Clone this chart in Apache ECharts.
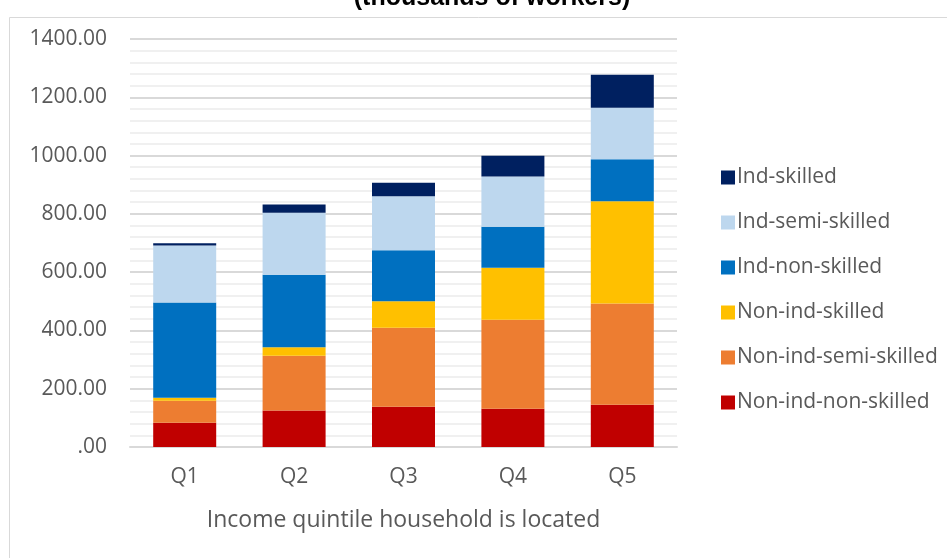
<!DOCTYPE html>
<html>
<head>
<meta charset="utf-8">
<script src="https://cdn.jsdelivr.net/npm/echarts@6/dist/echarts.min.js"></script>
<style>
  html, body { margin: 0; padding: 0; background: #fff; }
  #chart { width: 947px; height: 558px; }
</style>
</head>
<body>
<div id="chart"></div>
<script>
  // data
  const quintiles = ['Q1', 'Q2', 'Q3', 'Q4', 'Q5']
  const nonIndNonSkilled = [83, 125, 138, 131, 145]
  const nonIndSemiSkilled = [76, 188, 271, 306, 347]
  const nonIndSkilled = [10, 29, 91, 178, 351]
  const indNonSkilled = [327, 249, 175, 141, 144]
  const indSemiSkilled = [195, 213, 185, 172, 177]
  const indSkilled = [8, 28, 47, 71, 113]

  const font = '"Open Sans", sans-serif'
  const textColor = '#595959'

  function bar(name, data, color) {
    return {
      name: name,
      type: 'bar',
      stack: 'total',
      barWidth: 63,
      itemStyle: { color: color },
      data: data
    }
  }

  const chart = echarts.init(document.getElementById('chart'))
  const option = {
    backgroundColor: '#fff',
    animation: false,
    title: {
      text: '(thousands of workers)',
      left: 487,
      textAlign: 'center',
      top: -19,
      textStyle: { fontFamily: '"Liberation Sans", sans-serif', fontWeight: 'bold', fontSize: 25, color: '#000' }
    },
    graphic: [{
      type: 'rect',
      z: -10,
      shape: { x: 9.5, y: 17.5, width: 1000, height: 600 },
      style: { fill: 'none', stroke: '#d9d9d9', lineWidth: 1 }
    }],
    legend: {
      orient: 'vertical',
      left: 716,
      top: 162,
      itemWidth: 14,
      itemHeight: 14,
      itemGap: 24,
      icon: 'rect',
      data: ['Ind-skilled', 'Ind-semi-skilled', 'Ind-non-skilled', 'Non-ind-skilled', 'Non-ind-semi-skilled', 'Non-ind-non-skilled'],
      textStyle: { fontFamily: font, fontSize: 21, color: textColor, padding: [0, 0, 0, -3] }
    },
    grid: { left: 130, right: 270, top: 39, bottom: 111 },
    xAxis: {
      type: 'category',
      data: quintiles,
      name: 'Income quintile household is located',
      nameLocation: 'middle',
      nameGap: 62,
      nameTextStyle: { fontFamily: font, fontSize: 23, color: textColor },
      axisTick: { show: false },
      axisLine: { lineStyle: { color: '#d9d9d9', width: 2 } },
      axisLabel: { fontFamily: font, fontSize: 21, color: textColor, margin: 20 }
    },
    yAxis: {
      type: 'value',
      min: 0,
      max: 1400,
      interval: 200,
      axisLine: { show: false },
      axisTick: { show: false },
      axisLabel: {
        fontFamily: font, fontSize: 21, color: textColor, margin: 23,
        formatter: v => v === 0 ? '.00' : v.toFixed(2)
      },
      splitLine: { lineStyle: { color: '#d9d9d9', width: 2 } },
      minorTick: { show: false, splitNumber: 5 },
      minorSplitLine: { show: true, lineStyle: { color: '#f0f0f0', width: 2 } }
    },
    series: [
      bar('Non-ind-non-skilled', nonIndNonSkilled, '#C00000'),
      bar('Non-ind-semi-skilled', nonIndSemiSkilled, '#ED7D31'),
      bar('Non-ind-skilled', nonIndSkilled, '#FFC000'),
      bar('Ind-non-skilled', indNonSkilled, '#0070C0'),
      bar('Ind-semi-skilled', indSemiSkilled, '#BDD7EE'),
      bar('Ind-skilled', indSkilled, '#002060')
    ]
  }
  chart.setOption(option)
</script>
</body>
</html>
